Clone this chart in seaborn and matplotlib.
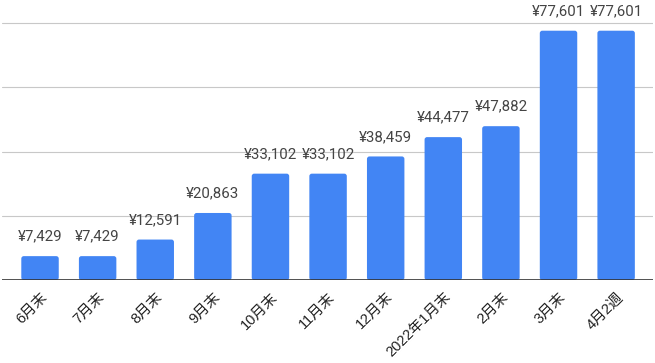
import matplotlib
matplotlib.use("Agg")
import matplotlib.pyplot as plt
from matplotlib.patches import FancyBboxPatch
import seaborn as sns
import pandas as pd

categories = ["6月末", "7月末", "8月末", "9月末", "10月末", "11月末", "12月末",
              "2022年1月末", "2月末", "3月末", "4月2週"]
values = [7429, 7429, 12591, 20863, 33102, 33102, 38459, 44477, 47882, 77601, 77601]
gridlines = [20000, 40000, 60000, 80000]

sns.set_theme(style="white")
plt.rcParams['font.family'] = ['Noto Sans CJK JP', 'DejaVu Sans']

df = pd.DataFrame({"cat": categories, "val": values})

fig = plt.figure(figsize=(6.55, 3.63), dpi=100)
ax = fig.add_axes([2/655, 83/363, 651/655, 280/363])
sns.barplot(data=df, x="cat", y="val", color="#4285F4", width=0.65,
            saturation=1, ax=ax, zorder=3)

ymax = 87160
# round bar corners slightly
px_x = 11.3 / 651
px_y = ymax / 280
for p in list(ax.patches):
    x0, y0 = p.get_x(), p.get_y()
    w, h = p.get_width(), p.get_height()
    fb = FancyBboxPatch((x0, y0), w, h,
                        boxstyle=f"round,pad=0,rounding_size={2.5*px_x}",
                        mutation_aspect=px_y / px_x,
                        facecolor=p.get_facecolor(), edgecolor="none", zorder=3)
    p.remove()
    ax.add_patch(fb)

for y in gridlines:
    ax.axhline(y, color="#c8c8c8", lw=0.8, zorder=1)
ax.axhline(0, color="#333333", lw=1.2, zorder=4)

for i, v in enumerate(values):
    ax.annotate(f"¥{v:,}", (i, v), xytext=(0, 9), textcoords="offset points",
                ha="center", va="bottom", fontsize=10.8, color="#444444",
                family=['Roboto', 'DejaVu Sans'])

ax.set_xlim(-0.66, 10.64)
ax.set_ylim(0, ymax)
ax.set_xlabel("")
ax.set_ylabel("")
ax.set_yticks([])
ax.tick_params(axis="x", length=0, pad=7)
for lbl in ax.get_xticklabels():
    lbl.set_rotation(45)
    lbl.set_ha("right")
    lbl.set_rotation_mode("anchor")
    lbl.set_fontsize(10.5)
    lbl.set_color("#222222")
    lbl.set_family(['Liberation Sans', 'Noto Sans CJK JP'])
for s in ax.spines.values():
    s.set_visible(False)

fig.savefig("out.png", dpi=100)
